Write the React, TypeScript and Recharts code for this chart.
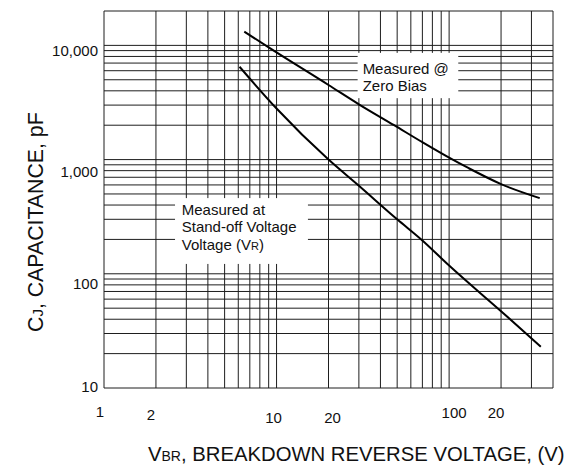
import React from 'react';
import { LineChart, Line, XAxis, YAxis, CartesianGrid, ReferenceArea } from 'recharts';

const FONT = '"Liberation Sans", Arial, Helvetica, sans-serif';
const INK = '#111';

// breakdown voltage (V) -> junction capacitance (pF)
const zeroBiasV = [6.5, 9, 20, 30, 48, 70, 100, 130, 200, 335];
const zeroBiasC = [13200, 9600, 4500, 3050, 2000, 1420, 1040, 840, 610, 460];
const standOffV = [6.1, 10, 20, 30, 50, 70, 100, 200, 340];
const standOffC = [6500, 2800, 1000, 590, 300, 196, 118, 47, 23];

// axis ticks and their printed labels (the 200 tick is printed "20" on the original)
const xTicks = [1, 2, 10, 20, 100, 200];
const xTickLabels = ['1', '2', '10', '20', '100', '20'];
const yTicks = [10, 100, 1000, 10000];
const yTickLabels = ['10', '100', '1,000', '10,000'];

// log grid lines, plot edges included
const xGrid = [1, 2, 3, 4, 5, 6, 7, 8, 9, 10, 20, 30, 40, 50, 60, 70, 80, 90, 100, 200, 300, 400];
const yGrid = [
  10, 20, 30, 40, 50, 60, 70, 80, 90,
  100, 200, 300, 400, 500, 600, 700, 800, 900,
  1000, 2000, 3000, 4000, 5000, 6000, 7000, 8000, 9000,
  10000, 20000,
];

// label nudges (px), the original labels are not quite on their lines
const xTickDx = [-4, -5, -3, 4, 5, -5];
const xTickDy = [29, 32, 35, 35, 30, 30];
const yTickDy = [4, 15.5, 17.5, 10.5];

// annotation boxes in data units
const zeroBiasBox = { x1: 29.5, x2: 113, y1: 3450, y2: 8600 };
const standOffBox = { x1: 2.58, x2: 15.2, y1: 122, y2: 460 };

const zeroBias = zeroBiasV.map((v, i) => ({ v, c: zeroBiasC[i] }));
const standOff = standOffV.map((v, i) => ({ v, c: standOffC[i] }));

const XTick = ({ x, y, payload }: any) => {
  const i = xTicks.indexOf(payload.value);
  if (i < 0) return null;
  return (
    <text x={x + xTickDx[i]} y={y + xTickDy[i]} textAnchor="middle" fontSize={15} fill={INK} fontFamily={FONT}>
      {xTickLabels[i]}
    </text>
  );
};

const YTick = ({ x, y, payload }: any) => {
  const i = yTicks.indexOf(payload.value);
  if (i < 0) return null;
  return (
    <text x={x} y={y + yTickDy[i]} textAnchor="end" fontSize={15} fill={INK} fontFamily={FONT}>
      {yTickLabels[i]}
    </text>
  );
};

const XTitle = () => (
  <text x={148} y={461} fontSize={20.3} fill={INK} fontFamily={FONT}>
    V<tspan fontSize={14}>BR</tspan>, BREAKDOWN REVERSE VOLTAGE, (V)
  </text>
);

const YTitle = () => (
  <text transform="translate(43,332) rotate(-90)" fontSize={21.3} fill={INK} fontFamily={FONT}>
    C<tspan fontSize={15}>J</tspan>, CAPACITANCE, pF
  </text>
);

const ZeroBiasNote = ({ x, y, width, height }: any) => (
  <g>
    <rect x={x} y={y} width={width} height={height} fill="#fff" />
    <text x={x + 5} y={y + 20.7} fontSize={15} fill={INK} fontFamily={FONT}>Measured @</text>
    <text x={x + 5} y={y + 38.4} fontSize={15} fill={INK} fontFamily={FONT}>Zero Bias</text>
  </g>
);

const StandOffNote = ({ x, y, width, height }: any) => (
  <g>
    <rect x={x} y={y} width={width} height={height} fill="#fff" />
    <text x={x + 6.7} y={y + 17.3} fontSize={15} fill={INK} fontFamily={FONT}>Measured at</text>
    <text x={x + 6.7} y={y + 34} fontSize={15} fill={INK} fontFamily={FONT}>Stand-off Voltage</text>
    <text x={x + 6.7} y={y + 52.3} fontSize={15} fill={INK} fontFamily={FONT}>
      Voltage (V<tspan fontSize={11}>R</tspan>)
    </text>
  </g>
);

export default function App() {
  return (
    <div style={{ position: 'absolute', left: 0, top: 0, background: '#fff' }}>
      <LineChart
        width={566}
        height={468}
        margin={{ top: 11, right: 13, bottom: 50, left: 44 }}
        style={{ fontFamily: FONT }}
      >
        <CartesianGrid
          stroke="#1e1e1e"
          strokeWidth={1}
          horizontalValues={yGrid}
          verticalValues={xGrid}
        />
        <XAxis
          dataKey="v"
          type="number"
          scale="log"
          domain={[1, 400]}
          allowDataOverflow
          ticks={xTicks}
          interval={0}
          tick={<XTick />}
          tickLine={false}
          axisLine={false}
          tickSize={0}
          tickMargin={0}
          height={30}
          label={<XTitle />}
        />
        <YAxis
          type="number"
          scale="log"
          domain={[10, 20000]}
          allowDataOverflow
          ticks={yTicks}
          interval={0}
          tick={<YTick />}
          tickLine={false}
          axisLine={false}
          tickSize={0}
          tickMargin={6}
          width={60}
          label={<YTitle />}
        />
        <ReferenceArea {...zeroBiasBox} shape={(p: any) => <ZeroBiasNote {...p} />} />
        <ReferenceArea {...standOffBox} shape={(p: any) => <StandOffNote {...p} />} />
        <Line
          data={zeroBias}
          dataKey="c"
          type="monotone"
          stroke="#000"
          strokeWidth={2}
          dot={false}
          isAnimationActive={false}
        />
        <Line
          data={standOff}
          dataKey="c"
          type="monotone"
          stroke="#000"
          strokeWidth={2}
          dot={false}
          isAnimationActive={false}
        />
      </LineChart>
    </div>
  );
}
